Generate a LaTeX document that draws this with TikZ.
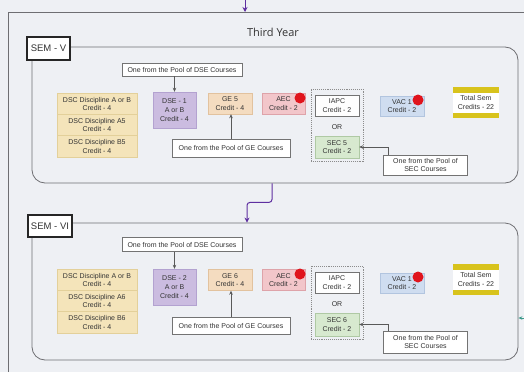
\documentclass[tikz,border=0pt]{standalone}
\usepackage{fontspec}
\setmainfont{Liberation Sans}
\newfontfamily\titlefont{Open Sans}
\usepackage{xcolor}
\usetikzlibrary{arrows.meta}

\definecolor{bgfill}{HTML}{EEF0F4}
\definecolor{textgray}{HTML}{333333}
\definecolor{frameline}{HTML}{6E6E72}
\definecolor{dscfill}{HTML}{F4E4BA}
\definecolor{dscline}{HTML}{E3D09A}
\definecolor{dsefill}{HTML}{CBBCE0}
\definecolor{dseline}{HTML}{B3A2D0}
\definecolor{gefill}{HTML}{F4DCC0}
\definecolor{geline}{HTML}{E2C29E}
\definecolor{aecfill}{HTML}{F2C6CA}
\definecolor{aecline}{HTML}{DEA3A9}
\definecolor{secfill}{HTML}{D7E9CF}
\definecolor{secline}{HTML}{AFC9A4}
\definecolor{vacfill}{HTML}{CFDDF0}
\definecolor{vacline}{HTML}{B2C5DF}
\definecolor{totalbar}{HTML}{D8C31C}
\definecolor{dotred}{HTML}{E0141C}
\definecolor{yearpurple}{HTML}{5E2FA0}
\definecolor{nextteal}{HTML}{3E9A8C}

\tikzset{
  box/.style={draw, inner sep=0pt, align=center, text=textgray,
    font=\fontsize{7}{8.4}\selectfont},
  dscbox/.style={box, fill=dscfill, draw=dscline, minimum width=80pt, minimum height=21.3pt},
  dsebox/.style={box, fill=dsefill, draw=dseline, minimum width=43pt, minimum height=36pt,
    font=\fontsize{7}{9.4}\selectfont},
  gebox/.style={box, fill=gefill, draw=geline, minimum width=44pt, minimum height=21pt},
  aecbox/.style={box, fill=aecfill, draw=aecline, minimum width=43pt, minimum height=21pt},
  iapcbox/.style={box, fill=white!92!bgfill, draw=black!55, line width=0.7pt, minimum width=44pt, minimum height=21pt},
  secbox/.style={box, fill=secfill, draw=secline, minimum width=44pt, minimum height=22pt},
  vacbox/.style={box, fill=vacfill, draw=vacline, minimum width=44pt, minimum height=20pt},
  totalbox/.style={box, fill=white, draw=none, minimum width=46pt, minimum height=31pt},
  poolbox/.style={box, fill=white, draw=black!55, line width=0.6pt},
  sembox/.style={draw=black!85, line width=1.3pt, fill=white, minimum width=43pt,
    minimum height=23pt, inner sep=0pt, text=textgray, font=\fontsize{9.5}{11}\selectfont},
  semframe/.style={draw=frameline, rounded corners=13pt, line width=0.8pt, inner sep=0pt},
  orgroup/.style={draw=black!45, densely dotted, line width=0.9pt, minimum width=52pt,
    minimum height=72pt, inner sep=0pt},
  reddot/.style={circle, fill=dotred, minimum size=11pt, inner sep=0pt},
  flow/.style={-{Stealth[length=4pt,width=3.5pt]}, draw=black!65, line width=0.6pt},
  yearflow/.style={-{Stealth[length=5pt,width=5pt]}, draw=yearpurple, line width=1pt,
    rounded corners=3pt}
}

\begin{document}
\begin{tikzpicture}[x=1pt, y=-1pt]
  \useasboundingbox (0,0) rectangle (524,372);
  \fill[bgfill] (0,0) rectangle (524,372);
  \draw[frameline, line width=0.8pt] (8,372) -- (8,12) -- (524,12);

  % incoming arrow
  \coordinate (yearin) at (245,0);
  \coordinate (yearout) at (245,12);
  \draw[yearflow] (yearin) -- (yearout);

  \node[font=\titlefont\fontsize{11}{13}\selectfont, text=textgray] (title) at (273,32) {Third Year};

  % SEM - V
  \node[semframe, minimum width=486pt, minimum height=136pt] (frame5) at (275,115) {};
  \node[sembox] (sem5) at (48.5,48.5) {SEM - V};
  \node[poolbox, minimum width=120pt, minimum height=13pt] (dsepool5) at (182,69.5) {One from the Pool of DSE Courses};
  \node[dscbox] (dscab5) at (97,103.7) {DSC Discipline A or B\\Credit - 4};
  \node[dscbox] (dsca5) at (97,125) {DSC Discipline A5\\Credit - 4};
  \node[dscbox] (dscb5) at (97,146.3) {DSC Discipline B5\\Credit - 4};
  \node[dsebox] (dse5) at (174.5,110) {DSE - 1\\A or B\\Credit - 4};
  \node[gebox] (ge5) at (230,103.5) {GE 5\\Credit - 4};
  \node[aecbox] (aec5) at (283.5,103.5) {AEC\\Credit - 2};
  \node[orgroup] (group5) at (337,125) {};
  \node[iapcbox] (iapc5) at (337,105.5) {IAPC\\Credit - 2};
  \node[box, draw=none] (or5) at (337,127) {OR};
  \node[secbox] (sec5) at (337,147) {SEC 5\\Credit - 2};
  \node[vacbox] (vac5) at (402,106) {VAC 1\\Credit - 2};
  \node[totalbox] (total5) at (476,102.5) {Total Sem\\Credits - 22};
  \fill[totalbar] (total5.north west) rectangle ([yshift=-6pt]total5.north east);
  \fill[totalbar] ([yshift=5pt]total5.south west) rectangle (total5.south east);
  \node[poolbox, minimum width=118pt, minimum height=18pt] (gepool5) at (231,148) {One from the Pool of GE Courses};
  \node[poolbox, minimum width=84pt, minimum height=20pt] (secpool5) at (425.5,165) {One from the Pool of\\SEC Courses};
  \node[reddot] (dotaec5) at (300,98) {};
  \node[reddot] (dotvac5) at (418,100) {};
  \draw[flow] (dsepool5.south -| dse5) -- (dse5.north);
  \draw[flow] (gepool5.north) -- (gepool5.north |- ge5.south);
  \draw[flow] ([xshift=5pt]secpool5.north west) |- (sec5.east);

  % SEM - VI
  \node[semframe, minimum width=486pt, minimum height=137pt] (frame6) at (275,291.5) {};
  \node[sembox, minimum width=44pt, minimum height=22pt] (sem6) at (50,226) {SEM - VI};
  \node[poolbox, minimum width=120pt, minimum height=14pt] (dsepool6) at (182,244.5) {One from the Pool of DSE Courses};
  \node[dscbox] (dscab6) at (97,279.7) {DSC Discipline A or B\\Credit - 4};
  \node[dscbox] (dsca6) at (97,301) {DSC Discipline A6\\Credit - 4};
  \node[dscbox] (dscb6) at (97,322.3) {DSC Discipline B6\\Credit - 4};
  \node[dsebox] (dse6) at (174.5,287) {DSE - 2\\A or B\\Credit - 4};
  \node[gebox] (ge6) at (230,280) {GE 6\\Credit - 4};
  \node[aecbox] (aec6) at (283.5,280) {AEC\\Credit - 2};
  \node[orgroup, minimum height=73pt] (group6) at (337,302.5) {};
  \node[iapcbox] (iapc6) at (337,282.5) {IAPC\\Credit - 2};
  \node[box, draw=none] (or6) at (337,304) {OR};
  \node[secbox, minimum height=23pt] (sec6) at (337,324.5) {SEC 6\\Credit - 2};
  \node[vacbox] (vac6) at (402,283) {VAC 1\\Credit - 2};
  \node[totalbox] (total6) at (476,279.5) {Total Sem\\Credits - 22};
  \fill[totalbar] (total6.north west) rectangle ([yshift=-6pt]total6.north east);
  \fill[totalbar] ([yshift=5pt]total6.south west) rectangle (total6.south east);
  \node[poolbox, minimum width=118pt, minimum height=17pt] (gepool6) at (231,325.5) {One from the Pool of GE Courses};
  \node[poolbox, minimum width=84pt, minimum height=22pt] (secpool6) at (425.5,342) {One from the Pool of\\SEC Courses};
  \node[reddot] (dotaec6) at (300,274) {};
  \node[reddot] (dotvac6) at (418,277) {};
  \draw[flow] (dsepool6.south -| dse6) -- (dse6.north);
  \draw[flow] (gepool6.north) -- (gepool6.north |- ge6.south);
  \draw[flow] ([xshift=5pt]secpool6.north west) |- (sec6.east);

  % semester to semester
  \draw[yearflow] ([xshift=-3pt]frame5.south) -- ++(0,19) -| ([xshift=-28pt]frame6.north);
  \coordinate (nextin) at (524,318);
  \draw[flow, draw=nextteal, line width=0.8pt] (nextin) -- (nextin -| frame6.east);
\end{tikzpicture}
\end{document}
